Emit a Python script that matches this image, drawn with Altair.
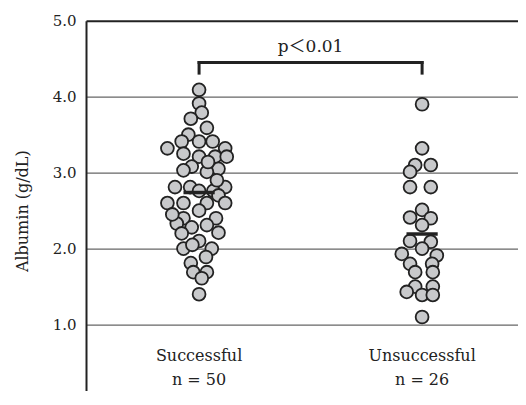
import altair as alt
import pandas as pd

# ---------------- data ----------------
groups = ["Successful", "Unsuccessful"]
group_n = [50, 26]

successful_albumin = [
    4.09, 3.91, 3.79, 3.71, 3.59, 3.50, 3.41, 3.41, 3.41, 3.32,
    3.32, 3.25, 3.21, 3.21, 3.21, 3.08, 3.05, 3.03, 3.01, 2.81,
    2.81, 2.76, 2.76, 2.81, 2.70, 2.60, 2.60, 2.60, 2.60, 2.50,
    2.40, 2.40, 2.33, 2.31, 2.28, 2.21, 2.20, 2.10, 2.00, 2.00,
    1.89, 1.81, 1.69, 1.69, 1.61, 1.40, 2.90, 2.45, 2.05, 3.14,
]
# horizontal beeswarm jitter (in group-axis units)
successful_jitter = [
    0.0, 0.0, 0.012, -0.037, 0.035, -0.048, -0.078, 0.0, 0.061, -0.142,
    0.117, -0.070, 0.0, 0.072, 0.124, -0.033, 0.087, -0.070, 0.035, -0.108,
    -0.040, 0.0, 0.064, 0.117, 0.087, -0.142, -0.070, 0.035, 0.117, 0.0,
    -0.070, 0.076, -0.100, 0.035, -0.033, 0.087, -0.078, 0.0, -0.070, 0.057,
    0.031, -0.037, -0.026, 0.035, 0.012, 0.0, 0.080, -0.120, -0.030, 0.040,
]

unsuccessful_albumin = [
    3.90, 3.32, 3.10, 3.10, 3.01, 2.81, 2.81, 2.51, 2.41, 2.40,
    2.31, 2.10, 2.09, 2.00, 1.93, 1.91, 1.80, 1.80, 1.69, 1.69,
    1.50, 1.50, 1.43, 1.39, 1.39, 1.10,
]
unsuccessful_jitter = [
    0.0, 0.0, -0.031, 0.039, -0.054, -0.054, 0.039, 0.0, -0.054, 0.039,
    0.0, -0.054, 0.039, 0.0, -0.091, 0.066, -0.054, 0.045, -0.031, 0.048,
    -0.031, 0.048, -0.069, 0.0, 0.048, 0.0,
]

y_ticks = [1, 2, 3, 4, 5]
p_label = "p＜0.01"
p_label_y = 4.65
bracket_top = 4.45
bracket_bottom = 4.31
group_label_y = 0.52
mean_half_width = 0.07

# ---------------- tables ----------------
rows = []
for gi, (vals, jit) in enumerate(
    [(successful_albumin, successful_jitter), (unsuccessful_albumin, unsuccessful_jitter)],
    start=1,
):
    for v, j in zip(vals, jit):
        rows.append({"group": groups[gi - 1], "gi": gi, "albumin": v, "xpos": gi + j})
points = pd.DataFrame(rows)

bracket = pd.DataFrame(
    {
        "x1": [1, 1, 2],
        "x2": [2, 1, 2],
        "y1": [bracket_top, bracket_bottom, bracket_bottom],
        "y2": [bracket_top, bracket_top, bracket_top],
    }
)
plabel = pd.DataFrame({"x": [1.5], "y": [p_label_y], "text": [p_label]})
glabels = pd.DataFrame(
    {
        "x": [1, 2],
        "y": [group_label_y, group_label_y],
        "text": [f"{g}\nn = {n}" for g, n in zip(groups, group_n)],
    }
)

SERIF = "DejaVu Serif"
INK = "#222222"

# the reference picture is cropped just above the 0.0 baseline
xscale = alt.Scale(domain=[0.493, 2.43], nice=False, zero=False)
yscale = alt.Scale(domain=[0.13, 5], nice=False, zero=False)

grid_test = "datum.value === 5"

circles = alt.Chart(points).mark_circle(
    size=165, fill="#c8c9cb", stroke=INK, strokeWidth=1.8, opacity=1, fillOpacity=1
).encode(
    x=alt.X(
        "xpos:Q",
        scale=xscale,
        axis=None,
    ),
    y=alt.Y(
        "albumin:Q",
        scale=yscale,
        axis=alt.Axis(
            values=y_ticks,
            format=".1f",
            title="Albumin (g/dL)",
            ticks=False,
            labelPadding=10,
            labelFont=SERIF,
            labelFontSize=15,
            labelColor=INK,
            domainColor=INK,
            domainWidth=2,
            grid=True,
            gridColor={"condition": {"test": grid_test, "value": INK}, "value": "#666666"},
            gridWidth={"condition": {"test": grid_test, "value": 2}, "value": 1.3},
            titleFont=SERIF,
            titleFontSize=16,
            titleFontWeight="normal",
            titleColor=INK,
            titleAngle=270,
            titleX=-64,
            titleY=190,
            titleAlign="center",
            titleBaseline="middle",
        ),
    ),
)

means = alt.Chart(points).transform_aggregate(
    mean="mean(albumin)", groupby=["gi"]
).transform_calculate(
    x1=f"datum.gi - {mean_half_width}", x2=f"datum.gi + {mean_half_width}"
).mark_rule(strokeWidth=3.5, color=INK).encode(
    x=alt.X("x1:Q", scale=xscale), x2="x2:Q", y=alt.Y("mean:Q", scale=yscale)
)

brk = alt.Chart(bracket).mark_rule(strokeWidth=3, color=INK, strokeCap="square").encode(
    x=alt.X("x1:Q", scale=xscale), x2="x2:Q",
    y=alt.Y("y1:Q", scale=yscale), y2="y2:Q",
)

ptext = alt.Chart(plabel).mark_text(
    font=f"{SERIF}, Noto Sans CJK JP", fontSize=17, color=INK
).encode(x=alt.X("x:Q", scale=xscale), y=alt.Y("y:Q", scale=yscale), text="text:N")

gtext = alt.Chart(glabels).mark_text(
    font=SERIF, fontSize=16, color=INK, lineBreak="\n", lineHeight=24, baseline="alphabetic"
).encode(x=alt.X("x:Q", scale=xscale), y=alt.Y("y:Q", scale=yscale), text="text:N")

chart = alt.layer(circles, means, brk, ptext, gtext).properties(
    width=432,
    height=370,
    padding={"left": 78, "top": 12.7, "right": 0, "bottom": 0},
    autosize=alt.AutoSizeParams(type="none"),
    background="white",
).configure_view(stroke=None)

chart.save("out.html", embed_options={"renderer": "svg", "actions": False})
